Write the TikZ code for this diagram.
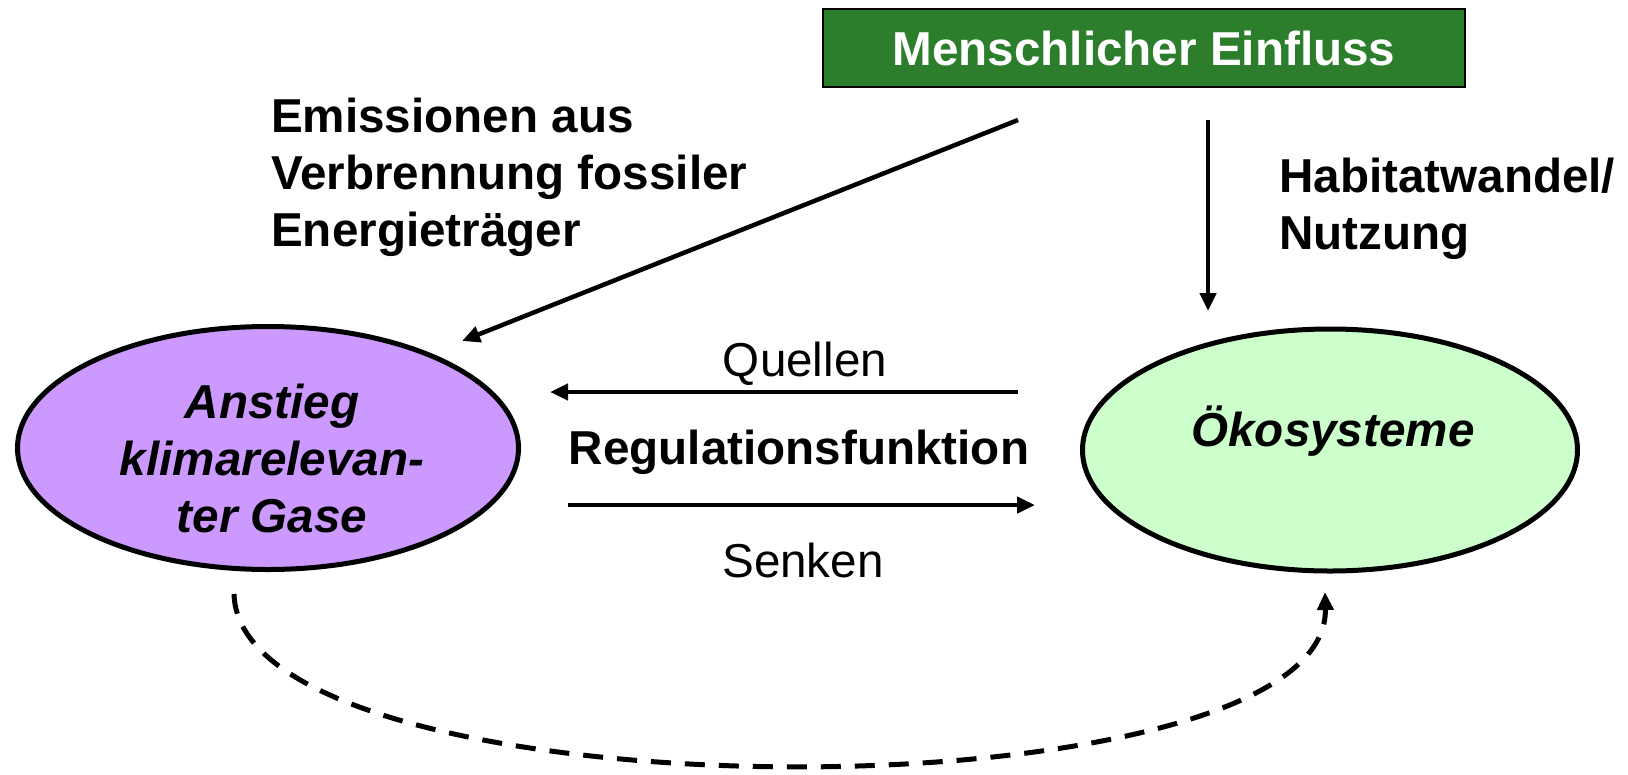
\documentclass[tikz,border=0pt]{standalone}
\usepackage{fontspec}
\setmainfont{Liberation Sans}
\usetikzlibrary{arrows.meta,shapes.geometric}
\definecolor{boxgreen}{RGB}{44,125,44}
\definecolor{gaspurple}{RGB}{204,153,255}
\definecolor{ecogreen}{RGB}{204,255,204}
\begin{document}
\begin{tikzpicture}[x=1pt,y=-1pt,
  lbl/.style={font=\fontsize{47.6}{57}\selectfont, inner sep=0pt},
  blbl/.style={font=\bfseries\fontsize{47.6}{57}\selectfont, inner sep=0pt},
  bilbl/.style={font=\bfseries\itshape\fontsize{47.6}{57}\selectfont, inner sep=0pt},
  arr/.style={line width=4.5pt, -{Triangle[length=18pt,width=16pt]}},
  ell/.style={ellipse, draw=black, line width=5pt, inner sep=0pt},
]
\useasboundingbox (0,0) rectangle (1628,774);
% top box
\node[draw=black, line width=2pt, fill=boxgreen, minimum width=642pt, minimum height=78pt,
      text=white, blbl] (human) at (1144,48) {Menschlicher Einfluss};
% ellipses
\node[ell, fill=gaspurple, minimum width=501pt, minimum height=243pt] (gas) at (268,448) {};
\node[ell, fill=ecogreen, minimum width=495pt, minimum height=242pt] (eco) at (1330,450) {};
% ellipse texts
\node[bilbl, align=center, anchor=base] (gastext) at (272,532) {Anstieg\\klimarelevan-\\ter Gase};
\node[bilbl, anchor=base] (ecotext) at (1333,446) {Ökosysteme};
% labels
\node[blbl, align=left, anchor=base west] (emis) at (271,246) {Emissionen aus\\Verbrennung fossiler\\Energieträger};
\node[blbl, align=left, anchor=base west] (habitat) at (1279,249) {Habitatwandel/\\Nutzung};
\node[lbl, anchor=base] (quellen) at (805,376) {Quellen};
\node[blbl, anchor=base] (regul) at (799,464) {Regulationsfunktion};
\node[lbl, anchor=base] (senken) at (803,577) {Senken};
% connector end points
\coordinate (emisS) at (1018,120);
\coordinate (emisE) at (462,341);
\coordinate (habS) at (1208,120);
\coordinate (habE) at (1208,311);
\coordinate (quelS) at (1018,392);
\coordinate (quelE) at (550,392);
\coordinate (senkS) at (568,505);
\coordinate (senkE) at (1035,505);
\coordinate (dashS) at (234,594);
\coordinate (dashE) at (1325,592);
% connectors
\draw[arr] (emisS) -- (emisE);
\draw[arr] (habS) -- (habE);
\draw[arr] (quelS) -- (quelE);
\draw[arr] (senkS) -- (senkE);
\draw[line width=5pt, dash pattern=on 20pt off 14pt, -{Triangle[length=18pt,width=16pt]}]
  (dashS) .. controls (240,822) and (1330,822) .. (dashE);
\end{tikzpicture}
\end{document}
